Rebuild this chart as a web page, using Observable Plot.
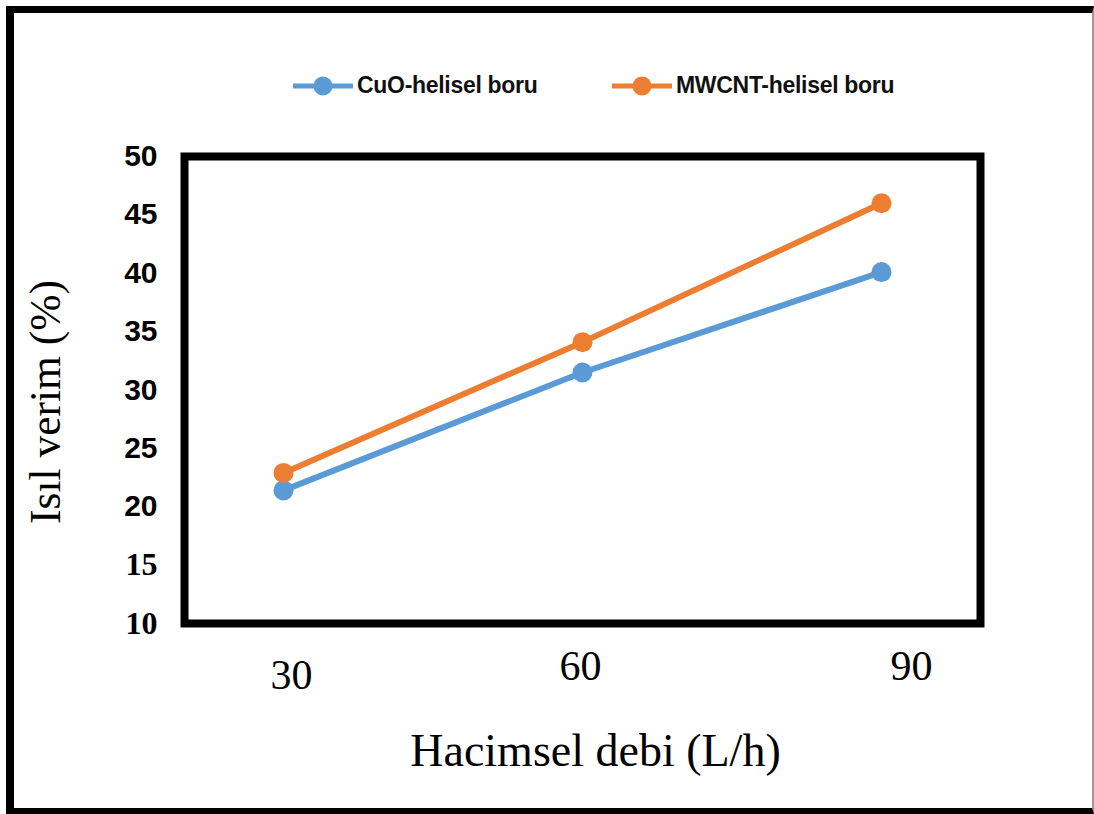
<!DOCTYPE html>
<html><head><meta charset="utf-8">
<script src="https://cdn.jsdelivr.net/npm/d3@7"></script>
<script src="https://cdn.jsdelivr.net/npm/@observablehq/plot@0.6"></script>
<style>
body{margin:0;background:#fff;}
#page{position:relative;width:1094px;height:814px;overflow:hidden;background:#fff;}
#box{position:absolute;left:6px;top:6px;width:1078px;height:795px;border-left:8px solid #000;border-top:7px solid #000;border-bottom:6px solid #000;border-right:2px solid #9a9a9a;}
.leg{position:absolute;top:72px;display:flex;align-items:center;font-family:"Liberation Sans",Arial,sans-serif;font-weight:bold;font-size:23px;color:#111;letter-spacing:-0.3px;}
.leg svg{display:block;}
#chart{position:absolute;left:0;top:120px;}
</style></head>
<body><div id="page"><div id="box"></div>
<div id="legend"></div>
<div id="chart"></div></div>
<script>
const flows = [30, 60, 90];
const cuo = [21.4, 31.5, 40.1];
const mwcnt = [22.9, 34.1, 46.0];
const seriesNames = ["CuO-helisel boru", "MWCNT-helisel boru"];
const seriesColors = ["#5B9BD5", "#ED7D31"];
const yTicksSans = [20, 25, 30, 35, 40, 45, 50];
const yTicksSerif = [10, 15];
const xLabel = "Hacimsel debi (L/h)";
const yLabel = "Isıl verim (%)";

const data = [
  ...flows.map((f, i) => ({flow: f, value: cuo[i], series: seriesNames[0]})),
  ...flows.map((f, i) => ({flow: f, value: mwcnt[i], series: seriesNames[1]}))
];

// legend (HTML)
const legend = document.getElementById("legend");
const legLeft = [293, 612];
seriesNames.forEach((name, i) => {
  const d = document.createElement("div");
  d.className = "leg";
  d.style.left = legLeft[i] + "px";
  d.innerHTML = `<svg width="62" height="26"><line x1="0" y1="13" x2="60" y2="13" stroke="${seriesColors[i]}" stroke-width="5"/><circle cx="30" cy="13" r="9.5" fill="${seriesColors[i]}"/></svg><span style="margin-left:2px">${name}</span>`;
  legend.appendChild(d);
});

const serif = "'Liberation Serif','Times New Roman',serif";
const sans = "'Liberation Sans',Arial,sans-serif";

const chart = Plot.plot({
  width: 1094,
  height: 680,
  marginLeft: 184,
  marginRight: 114,
  marginTop: 36,
  marginBottom: 177,
  style: {background: "transparent", color: "#000", overflow: "visible"},
  x: {type: "point", domain: flows, padding: 0.33, axis: null},
  y: {domain: [10, 50], axis: null},
  color: {domain: seriesNames, range: seriesColors},
  marks: [
    Plot.axisY(yTicksSans, {fontSize: 30, fontWeight: "bold", fontFamily: sans, tickSize: 0, tickPadding: 27, label: null}),
    Plot.axisY(yTicksSerif, {fontSize: 32, fontWeight: "bold", fontFamily: serif, tickSize: 0, tickPadding: 27, label: null}),
    Plot.axisX([30], {fontSize: 42, fontFamily: serif, tickSize: 0, tickPadding: 36, dx: 8, label: null}),
    Plot.axisX([60], {fontSize: 42, fontFamily: serif, tickSize: 0, tickPadding: 27, dx: -2, label: null}),
    Plot.axisX([90], {fontSize: 42, fontFamily: serif, tickSize: 0, tickPadding: 27, dx: 30, label: null}),
    Plot.text([xLabel], {frameAnchor: "bottom", textAnchor: "middle", lineAnchor: "top", dy: 110, dx: 13, fontSize: 46, fontFamily: serif}),
    Plot.text([yLabel], {frameAnchor: "left", textAnchor: "middle", lineAnchor: "middle", rotate: -90, dx: -138, dy: 12, fontSize: 43.5, fontFamily: serif}),
    Plot.line(data, {x: "flow", y: "value", stroke: "series", z: "series", strokeWidth: 6}),
    Plot.dot(data, {x: "flow", y: "value", fill: "series", r: 10}),
    Plot.frame({stroke: "#000", strokeWidth: 8})
  ]
});
document.getElementById("chart").appendChild(chart);
</script>
</body></html>
